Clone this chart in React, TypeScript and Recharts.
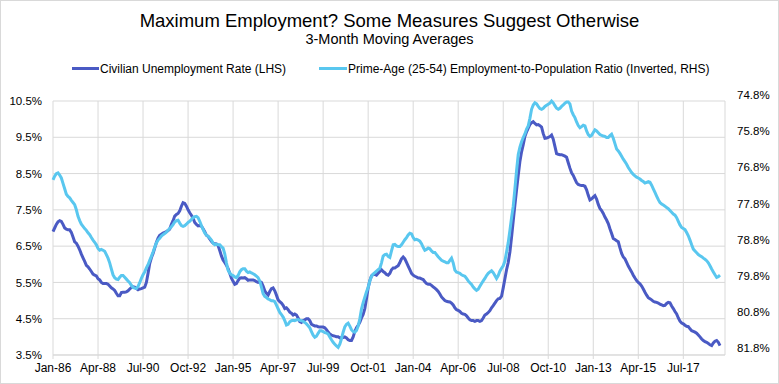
import React from 'react';
import { LineChart, Line, XAxis, YAxis, CartesianGrid } from 'recharts';

// Civilian unemployment rate, 3-month moving average (%), monthly Jan-86 .. May-19
const unemployment = [
  6.90, 7.00, 7.10, 7.17, 7.20, 7.18, 7.10, 7.00, 6.97, 6.95, 6.95, 6.88, // 1986
  6.75, 6.62, 6.58, 6.50, 6.40, 6.28, 6.18, 6.08, 5.97, 5.93, 5.87, 5.80, // 1987
  5.73, 5.70, 5.68, 5.60, 5.57, 5.50, 5.47, 5.47, 5.47, 5.45, 5.40, 5.35, // 1988
  5.32, 5.28, 5.20, 5.13, 5.13, 5.22, 5.23, 5.23, 5.24, 5.27, 5.32, 5.36, // 1989
  5.38, 5.37, 5.33, 5.30, 5.32, 5.33, 5.35, 5.37, 5.50, 5.75, 6.02, 6.18, // 1990
  6.30, 6.45, 6.60, 6.72, 6.80, 6.83, 6.86, 6.88, 6.90, 6.93, 6.97, 7.10, // 1991
  7.20, 7.33, 7.37, 7.40, 7.47, 7.60, 7.70, 7.68, 7.60, 7.50, 7.42, 7.35, // 1992
  7.27, 7.15, 7.10, 7.06, 7.07, 7.05, 6.98, 6.90, 6.80, 6.77, 6.70, 6.63, // 1993
  6.58, 6.57, 6.56, 6.52, 6.38, 6.23, 6.12, 6.05, 5.97, 5.88, 5.75, 5.62, // 1994
  5.53, 5.45, 5.47, 5.55, 5.62, 5.63, 5.62, 5.63, 5.60, 5.56, 5.57, 5.57, // 1995
  5.57, 5.55, 5.52, 5.50, 5.52, 5.50, 5.40, 5.27, 5.20, 5.15, 5.25, 5.33, // 1996
  5.35, 5.27, 5.15, 5.02, 4.97, 4.93, 4.87, 4.78, 4.80, 4.75, 4.68, 4.65, // 1997
  4.60, 4.63, 4.60, 4.52, 4.42, 4.40, 4.45, 4.47, 4.50, 4.50, 4.45, 4.35, // 1998
  4.32, 4.30, 4.30, 4.28, 4.27, 4.27, 4.27, 4.25, 4.20, 4.13, 4.08, 4.05, // 1999
  4.03, 4.02, 4.00, 4.00, 3.97, 3.98, 3.98, 4.00, 3.97, 3.92, 3.90, 3.90, // 2000
  4.00, 4.15, 4.25, 4.32, 4.40, 4.52, 4.62, 4.78, 5.05, 5.35, 5.55, 5.68, // 2001
  5.72, 5.72, 5.70, 5.75, 5.80, 5.85, 5.80, 5.77, 5.72, 5.70, 5.75, 5.85, // 2002
  5.90, 5.90, 5.93, 5.96, 6.05, 6.15, 6.20, 6.15, 6.05, 5.95, 5.85, 5.75, // 2003
  5.70, 5.67, 5.65, 5.62, 5.62, 5.60, 5.58, 5.52, 5.47, 5.45, 5.45, 5.42, // 2004
  5.38, 5.34, 5.30, 5.25, 5.18, 5.10, 5.05, 5.00, 4.98, 4.97, 4.96, 4.93, // 2005
  4.88, 4.80, 4.75, 4.73, 4.70, 4.65, 4.63, 4.62, 4.58, 4.52, 4.47, 4.45, // 2006
  4.45, 4.43, 4.45, 4.45, 4.43, 4.45, 4.52, 4.60, 4.63, 4.67, 4.72, 4.80, // 2007
  4.86, 4.93, 5.00, 5.05, 5.06, 5.12, 5.35, 5.60, 5.85, 6.05, 6.34, 6.75, // 2008
  7.20, 7.63, 8.05, 8.45, 8.83, 9.10, 9.30, 9.52, 9.65, 9.75, 9.85, 9.90, // 2009
  9.93, 9.88, 9.84, 9.85, 9.82, 9.78, 9.60, 9.47, 9.48, 9.50, 9.52, 9.56, // 2010
  9.45, 9.25, 9.05, 9.03, 9.02, 9.02, 9.00, 8.98, 8.95, 8.80, 8.65, 8.52, // 2011
  8.45, 8.35, 8.25, 8.20, 8.18, 8.17, 8.17, 8.15, 8.05, 7.90, 7.77, 7.80, // 2012
  7.85, 7.89, 7.80, 7.65, 7.54, 7.48, 7.40, 7.30, 7.22, 7.12, 6.98, 6.85, // 2013
  6.71, 6.68, 6.65, 6.62, 6.45, 6.30, 6.20, 6.15, 6.05, 5.95, 5.87, 5.79, // 2014
  5.70, 5.62, 5.55, 5.50, 5.46, 5.40, 5.32, 5.23, 5.15, 5.08, 5.05, 5.02, // 2015
  4.98, 4.96, 4.95, 4.93, 4.90, 4.88, 4.86, 4.87, 4.92, 4.95, 4.94, 4.85, // 2016
  4.78, 4.70, 4.63, 4.52, 4.43, 4.38, 4.36, 4.32, 4.29, 4.28, 4.22, 4.17, // 2017
  4.15, 4.13, 4.10, 4.05, 4.00, 3.94, 3.90, 3.87, 3.85, 3.82, 3.78, 3.76, // 2018
  3.83, 3.88, 3.90, 3.85, 3.76, // 2019
];

// Prime-age (25-54) employment-to-population ratio, 3-month moving average (%)
const primeAgeEpop = [
  76.95, 76.85, 76.78, 76.76, 76.82, 76.90, 77.05, 77.20, 77.35, 77.41, 77.45, 77.52, // 1986
  77.58, 77.64, 77.78, 77.96, 78.08, 78.18, 78.24, 78.30, 78.35, 78.42, 78.47, 78.55, // 1987
  78.62, 78.68, 78.75, 78.85, 78.90, 78.88, 78.90, 78.93, 79.02, 79.12, 79.25, 79.42, // 1988
  79.58, 79.66, 79.70, 79.71, 79.65, 79.60, 79.60, 79.65, 79.70, 79.75, 79.80, 79.87, // 1989
  79.93, 79.95, 79.96, 79.90, 79.80, 79.68, 79.58, 79.50, 79.39, 79.30, 79.18, 79.07, // 1990
  78.95, 78.82, 78.70, 78.62, 78.57, 78.51, 78.47, 78.44, 78.40, 78.35, 78.30, 78.25, // 1991
  78.19, 78.12, 78.08, 78.07, 78.15, 78.22, 78.24, 78.22, 78.18, 78.13, 78.10, 78.05, // 1992
  78.00, 77.97, 77.96, 78.00, 78.10, 78.22, 78.32, 78.42, 78.48, 78.52, 78.56, 78.62, // 1993
  78.70, 78.75, 78.73, 78.75, 78.75, 78.80, 78.84, 79.00, 79.25, 79.45, 79.53, 79.58, // 1994
  79.60, 79.64, 79.66, 79.60, 79.50, 79.44, 79.41, 79.41, 79.48, 79.52, 79.50, 79.53, // 1995
  79.55, 79.58, 79.62, 79.66, 79.75, 79.92, 80.10, 80.18, 80.21, 80.25, 80.27, 80.30, // 1996
  80.30, 80.32, 80.42, 80.52, 80.62, 80.68, 80.75, 80.85, 80.97, 80.95, 80.88, 80.85, // 1997
  80.84, 80.85, 80.83, 80.82, 80.84, 80.85, 80.87, 80.90, 80.94, 80.99, 81.05, 81.15, // 1998
  81.25, 81.31, 81.28, 81.20, 81.13, 81.13, 81.15, 81.18, 81.19, 81.22, 81.30, 81.38, // 1999
  81.45, 81.50, 81.55, 81.59, 81.50, 81.35, 81.17, 81.02, 80.95, 80.92, 81.00, 81.10, // 2000
  81.15, 81.17, 81.12, 81.00, 80.80, 80.53, 80.35, 80.20, 80.05, 79.93, 79.75, 79.62, // 2001
  79.56, 79.52, 79.48, 79.44, 79.40, 79.25, 79.06, 79.02, 79.01, 79.07, 79.10, 78.92, // 2002
  78.75, 78.74, 78.78, 78.80, 78.80, 78.75, 78.68, 78.61, 78.55, 78.48, 78.43, 78.45, // 2003
  78.55, 78.61, 78.60, 78.62, 78.65, 78.72, 78.82, 78.90, 78.88, 78.84, 78.86, 78.92, // 2004
  78.96, 78.96, 79.02, 79.08, 79.13, 79.18, 79.20, 79.22, 79.25, 79.25, 79.18, 79.12, // 2005
  79.25, 79.45, 79.51, 79.52, 79.54, 79.58, 79.60, 79.62, 79.68, 79.75, 79.80, 79.85, // 2006
  79.92, 79.97, 80.01, 79.98, 79.90, 79.82, 79.75, 79.68, 79.60, 79.54, 79.50, 79.47, // 2007
  79.52, 79.60, 79.68, 79.60, 79.48, 79.40, 79.33, 79.20, 78.95, 78.69, 78.35, 78.00, // 2008
  77.68, 77.20, 76.70, 76.25, 76.05, 75.90, 75.78, 75.68, 75.55, 75.46, 75.25, 75.00, // 2009
  74.88, 74.82, 74.85, 74.92, 74.98, 75.00, 74.97, 74.92, 74.89, 74.86, 74.83, 74.77, // 2010
  74.82, 74.90, 74.97, 75.00, 74.97, 74.92, 74.88, 74.83, 74.80, 74.80, 74.85, 75.05, // 2011
  75.15, 75.23, 75.35, 75.45, 75.51, 75.48, 75.44, 75.46, 75.60, 75.70, 75.75, 75.72, // 2012
  75.64, 75.57, 75.60, 75.65, 75.70, 75.72, 75.74, 75.75, 75.78, 75.78, 75.73, 75.69, // 2013
  75.80, 75.95, 76.10, 76.15, 76.22, 76.30, 76.38, 76.45, 76.52, 76.61, 76.68, 76.75, // 2014
  76.80, 76.84, 76.88, 76.90, 76.93, 76.97, 77.00, 77.04, 77.02, 77.00, 77.02, 77.10, // 2015
  77.20, 77.30, 77.40, 77.50, 77.58, 77.62, 77.65, 77.68, 77.72, 77.75, 77.80, 77.85, // 2016
  77.90, 77.93, 78.00, 78.10, 78.20, 78.27, 78.30, 78.33, 78.41, 78.50, 78.62, 78.75, // 2017
  78.87, 78.92, 78.97, 79.02, 79.05, 79.08, 79.12, 79.15, 79.19, 79.25, 79.33, 79.42, // 2018
  79.50, 79.58, 79.65, 79.63, 79.59, // 2019
];

const xTickLabels = [
  'Jan-86', 'Apr-88', 'Jul-90', 'Oct-92', 'Jan-95', 'Apr-97', 'Jul-99', 'Oct-01',
  'Jan-04', 'Apr-06', 'Jul-08', 'Oct-10', 'Jan-13', 'Apr-15', 'Jul-17',
];
// months since Jan-86 for each label above
const xTickMonths = [0, 27, 54, 81, 108, 135, 162, 189, 216, 243, 270, 297, 324, 351, 378];

const leftTicks = [3.5, 4.5, 5.5, 6.5, 7.5, 8.5, 9.5, 10.5];
const rightTicks = [74.8, 75.8, 76.8, 77.8, 78.8, 79.8, 80.8, 81.8];

const FONT = '"Liberation Sans", Arial, sans-serif';
const DARK = '#4a5ac4';
const LIGHT = '#59c7ef';
const GRID = '#d9d9d9';

const data = unemployment.map((u, i) => ({ m: i, unrate: u, epop: primeAgeEpop[i] }));

const RightTick = (props: any) => {
  const { x, y, payload } = props;
  // excel draws the secondary axis labels a few px above their gridlines
  return (
    <text x={x} y={y - 7} dy="0.355em" textAnchor="start" fontSize={11.5} fill="#000" fontFamily={FONT}>
      {payload.value.toFixed(1)}%
    </text>
  );
};

export default function App() {
  return (
    <div style={{ position: 'absolute', left: 0, top: 0, width: 779, height: 384, background: '#fff', fontFamily: FONT }}>
      <div style={{ position: 'absolute', left: 0, top: 12, width: 779, textAlign: 'center', fontSize: 18.5, lineHeight: 1, color: '#000' }}>
        Maximum Employment? Some Measures Suggest Otherwise
      </div>
      <div style={{ position: 'absolute', left: 0, top: 32, width: 779, textAlign: 'center', fontSize: 14.5, lineHeight: 1, color: '#000' }}>
        3-Month Moving Averages
      </div>
      <div style={{ position: 'absolute', left: 72, top: 67, width: 27, height: 3, background: DARK }} />
      <div style={{ position: 'absolute', left: 100, top: 63, fontSize: 12, lineHeight: 1, color: '#000', whiteSpace: 'nowrap' }}>
        Civilian Unemployment Rate (LHS)
      </div>
      <div style={{ position: 'absolute', left: 319, top: 67, width: 28, height: 3, background: LIGHT }} />
      <div style={{ position: 'absolute', left: 348, top: 63, fontSize: 12, lineHeight: 1, color: '#000', whiteSpace: 'nowrap' }}>
        Prime-Age (25-54) Employment-to-Population Ratio (Inverted, RHS)
      </div>

      <div style={{ position: 'absolute', left: 0, top: 0 }}>
        <LineChart width={779} height={384} data={data} margin={{ top: 101, right: 0, bottom: 0, left: 8 }}>
          <CartesianGrid stroke={GRID} yAxisId="left" />
          <XAxis
            dataKey="m"
            type="number"
            domain={[0, 403]}
            ticks={xTickMonths}
            interval={0}
            height={29}
            tickFormatter={(v) => xTickLabels[xTickMonths.indexOf(v)]}
            tick={{ fontSize: 12, fill: '#000', fontFamily: FONT }}
            axisLine={{ stroke: GRID }}
            tickLine={{ stroke: GRID }}
            tickSize={4}
            tickMargin={4}
          />
          <YAxis
            yAxisId="left"
            domain={[3.5, 10.5]}
            ticks={leftTicks}
            interval={0}
            width={45}
            tickFormatter={(v) => `${v.toFixed(1)}%`}
            tick={{ fontSize: 11.5, fill: '#000', fontFamily: FONT }}
            axisLine={false}
            tickLine={false}
            tickSize={0}
            tickMargin={11}
          />
          <YAxis
            yAxisId="right"
            orientation="right"
            reversed
            domain={[74.8, 81.8]}
            ticks={rightTicks}
            interval={0}
            width={54}
            tick={<RightTick />}
            axisLine={false}
            tickLine={false}
            tickSize={0}
            tickMargin={12}
          />
          <Line
            yAxisId="left"
            type="linear"
            dataKey="unrate"
            stroke={DARK}
            strokeWidth={3}
            dot={false}
            isAnimationActive={false}
          />
          <Line
            yAxisId="right"
            type="linear"
            dataKey="epop"
            stroke={LIGHT}
            strokeWidth={3}
            dot={false}
            isAnimationActive={false}
          />
        </LineChart>
      </div>
      <div style={{ position: 'absolute', left: 0, top: 0, width: 779, height: 384, boxSizing: 'border-box', border: `1px solid ${GRID}`, pointerEvents: 'none' }} />
    </div>
  );
}
